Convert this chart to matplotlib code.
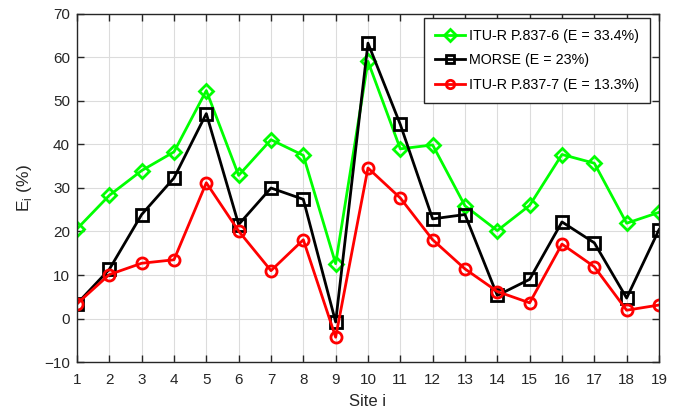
import numpy as np
import matplotlib
matplotlib.use("Agg")
import matplotlib.pyplot as plt

plt.rcParams['font.family'] = ['Liberation Sans', 'DejaVu Sans']

# site index
sites = np.arange(1, 20)

# error per site (%)
itu6 = [20.6, 28.3, 34.0, 38.3, 52.4, 32.9, 41.1, 37.5, 12.6, 59.1,
        39.0, 39.9, 25.9, 20.2, 26.0, 37.7, 35.7, 21.9, 24.4]
morse = [3.4, 11.3, 23.9, 32.3, 47.1, 21.6, 30.0, 27.4, -0.8, 63.3,
         44.6, 22.9, 23.9, 5.3, 9.0, 22.2, 17.4, 4.7, 20.4]
itu7 = [3.4, 10.1, 12.7, 13.5, 31.2, 20.1, 11.0, 18.1, -4.3, 34.6,
        27.7, 18.1, 11.4, 6.2, 3.6, 17.1, 11.9, 1.9, 3.1]

labels = ['ITU-R P.837-6 (E = 33.4%)', 'MORSE (E = 23%)',
          'ITU-R P.837-7 (E = 13.3%)']

fig = plt.figure(figsize=(6.88, 4.09), dpi=100)
ax = fig.add_axes([0.1119, 0.1149, 0.8459, 0.8509])

mk = dict(markersize=8, markeredgewidth=2, markerfacecolor='none', linewidth=2)
ax.plot(sites, itu6, '-D', color=(0, 1, 0), label=labels[0],
        **dict(mk, markersize=7.5))
ax.plot(sites, morse, '-s', color='black', label=labels[1], **mk)
ax.plot(sites, itu7, '-o', color='red', label=labels[2], **mk)

ax.set_xlim(1, 19)
ax.set_ylim(-10, 70)
ax.set_xticks(sites)
ax.set_yticks(np.arange(-10, 71, 10))
ax.grid(True, color='#dcdcdc', linewidth=0.8)
ax.set_axisbelow(True)
ax.tick_params(direction='in', top=True, right=True, labelsize=11,
               colors='#262626', length=5, width=1)
ax.tick_params(axis='x', pad=8)
ax.tick_params(axis='y', pad=5)
for s in ax.spines.values():
    s.set_color('#262626')
    s.set_linewidth(1)

ax.set_xlabel('Site i', fontsize=12, color='#262626', labelpad=5)
ax.set_ylabel('E$_\\mathregular{i}$ (%)', fontsize=12.5, color='#262626', labelpad=7)

leg = ax.legend(loc='upper right', bbox_to_anchor=(0.9845, 0.9885),
                borderaxespad=0, fontsize=10.3, fancybox=False,
                edgecolor='#262626', framealpha=1, handlelength=2.1,
                handletextpad=0.3, borderpad=0.75, labelspacing=0.75,
                markerscale=0.75)
leg.get_frame().set_linewidth(1)

fig.savefig('out.png', dpi=100)
